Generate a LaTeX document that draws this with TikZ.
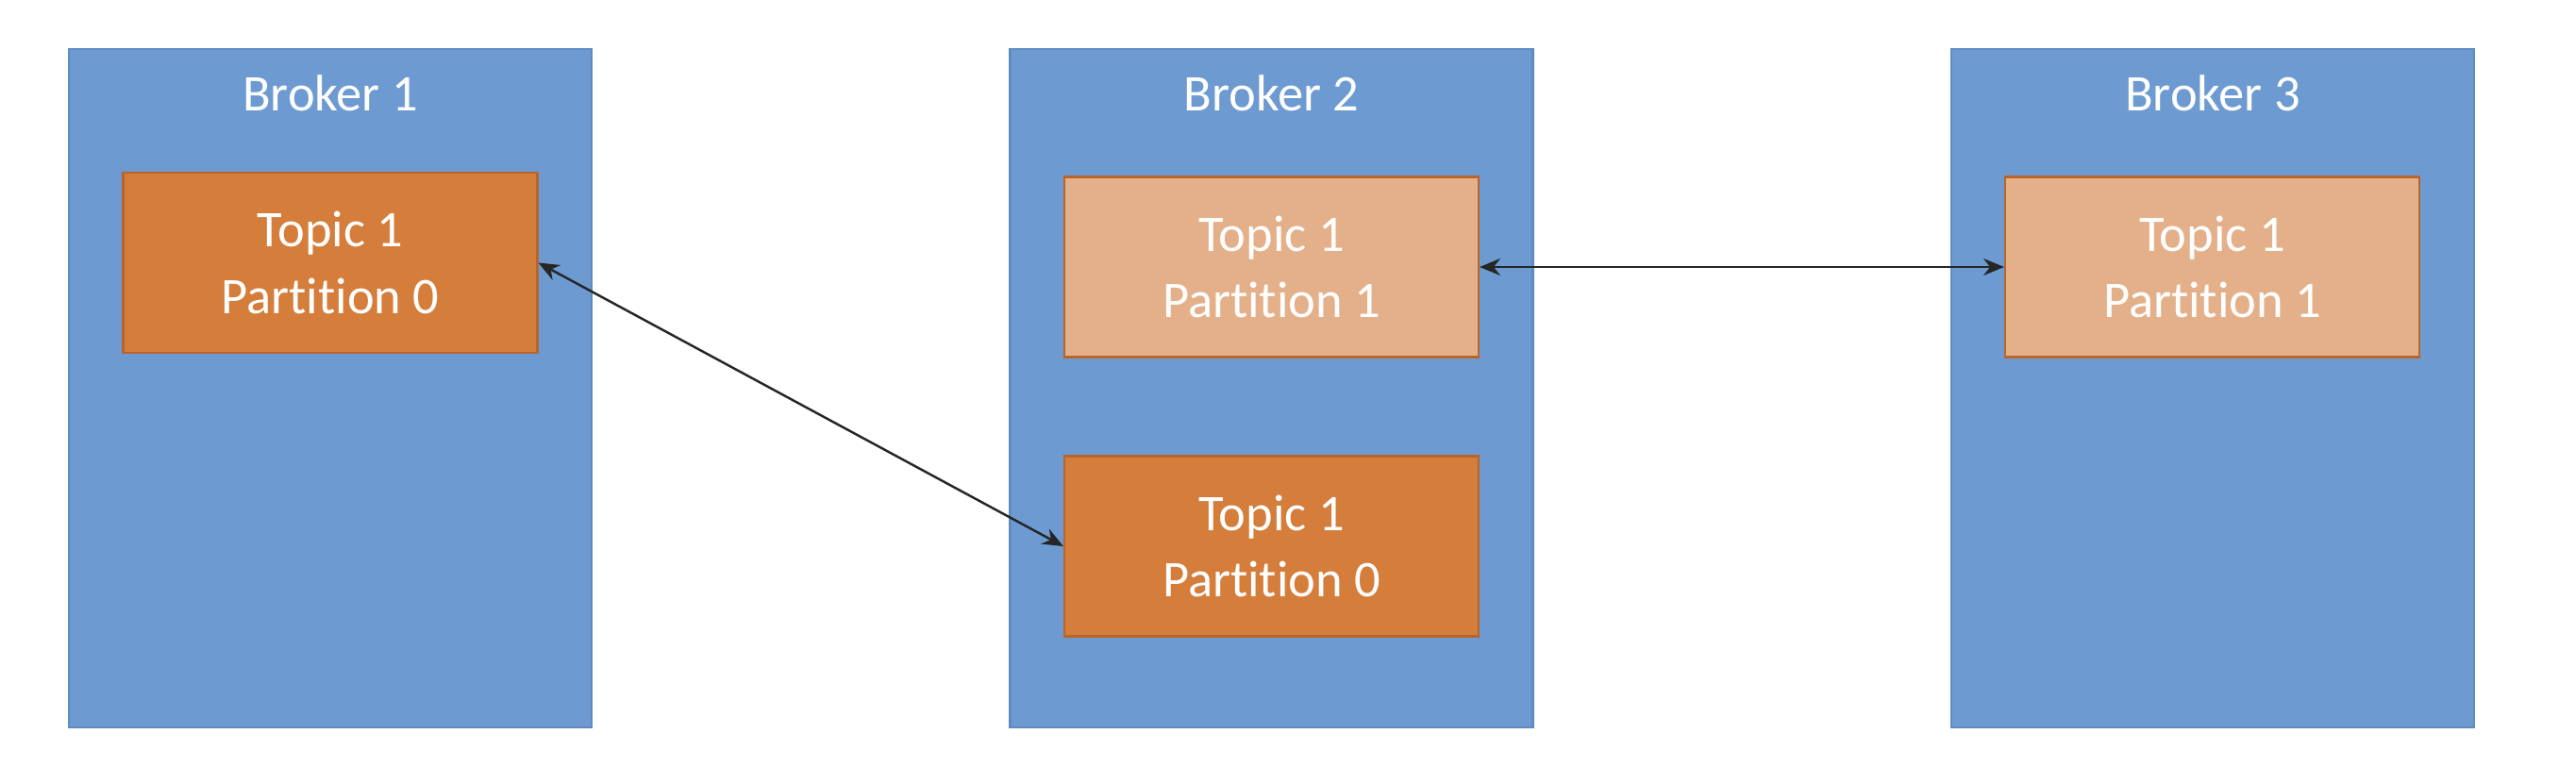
\documentclass[tikz,border=0pt]{standalone}
\usepackage{tikz}
\usetikzlibrary{arrows.meta,positioning}
\usepackage{fontspec}
\setmainfont{Carlito}[Ligatures={NoCommon}]
\definecolor{broker}{HTML}{6D9BD1}
\definecolor{brokerline}{HTML}{5F8BC2}
\definecolor{leader}{HTML}{D57D3A}
\definecolor{follower}{HTML}{E4B08A}
\definecolor{partline}{HTML}{B8652C}

\begin{document}
\begin{tikzpicture}[
  brokerbox/.style={draw=brokerline,fill=broker,line width=0.6pt,minimum width=5.54cm,minimum height=7.19cm},
  part/.style={draw=partline,fill=#1,line width=0.6pt,minimum width=4.39cm,minimum height=1.91cm,
    align=center,text=white,font=\fontsize{15.5}{20}\selectfont},
  title/.style={text=white,font=\fontsize{15.5}{20}\selectfont},
]
  \useasboundingbox (0,0) rectangle (27.3,8.3);

  \node[brokerbox] (b1) at (3.5,4.185) {};
  \node[brokerbox] (b2) at (13.475,4.185) {};
  \node[brokerbox] (b3) at (23.45,4.185) {};

  \node[title] (n1) at (3.5,7.31) {Broker 1};
  \node[title] (n2) at (13.475,7.31) {Broker 2};
  \node[title] (n3) at (23.45,7.31) {Broker 3};

  \node[part=leader] (p10) at (3.5,5.515) {Topic 1\\Partition 0};
  \node[part=follower] (p21) at (13.475,5.47) {Topic 1\\Partition 1};
  \node[part=leader] (p20) at (13.475,2.51) {Topic 1\\Partition 0};
  \node[part=follower] (p31) at (23.445,5.47) {Topic 1\\Partition 1};

  \draw[{Stealth[length=2.2mm,width=1.8mm]}-{Stealth[length=2.2mm,width=1.8mm]},line width=0.7pt,black!85] (p10.east) -- (p20.west);
  \draw[{Stealth[length=2.2mm,width=1.8mm]}-{Stealth[length=2.2mm,width=1.8mm]},line width=0.7pt,black!85] (p21.east) -- (p31.west);
\end{tikzpicture}
\end{document}
